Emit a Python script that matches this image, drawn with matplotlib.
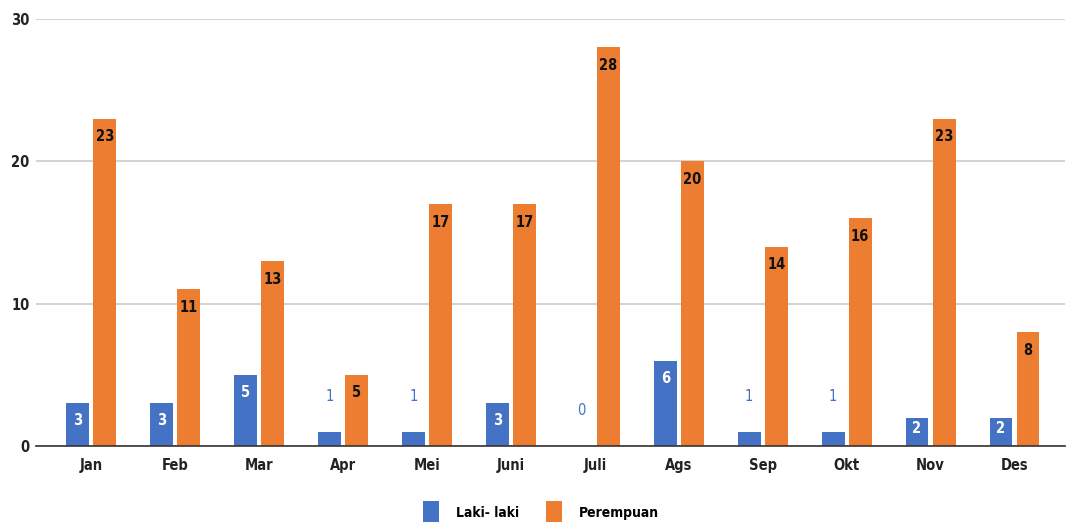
import numpy as np
import matplotlib.pyplot as plt
from matplotlib.patches import Patch
from matplotlib import font_manager

names = {f.name for f in font_manager.fontManager.ttflist}
cond = [n for n in ['Liberation Sans Narrow', 'DejaVu Sans Condensed'] if n in names]
plt.rcParams['font.family'] = cond + ['DejaVu Sans']
plt.rcParams['font.stretch'] = 'condensed'

bulan = ['Jan', 'Feb', 'Mar', 'Apr', 'Mei', 'Juni', 'Juli', 'Ags', 'Sep', 'Okt', 'Nov', 'Des']
laki = [3, 3, 5, 1, 1, 3, 0, 6, 1, 1, 2, 2]
perempuan = [23, 11, 13, 5, 17, 17, 28, 20, 14, 16, 23, 8]

BLUE = '#4472C4'
ORANGE = '#ED7D31'

fig = plt.figure(figsize=(10.67, 5.22), dpi=100)
ax = fig.add_axes([0.034, 0.1456, 0.964, 0.818])

x = np.arange(len(bulan))
w = 0.272
gap = 0.025
b1 = ax.bar(x - w / 2 - gap, laki, w, color=BLUE, zorder=3)
b2 = ax.bar(x + w / 2 + gap, perempuan, w, color=ORANGE, zorder=3)

ax.set_ylim(0, 30)
ax.set_xlim(-0.655, 11.6)
ax.set_yticks([0, 10, 20, 30])
ax.set_xticks(x)
ax.set_xticklabels(bulan)
ax.tick_params(axis='both', length=0, labelsize=10.5, colors='#222222')
ax.tick_params(axis='x', pad=9)
ax.tick_params(axis='y', pad=5)
for lbl in ax.get_xticklabels() + ax.get_yticklabels():
    lbl.set_fontweight('bold')

ax.grid(axis='y', color='#cccccc', linewidth=1.2, zorder=0)
for s in ['top', 'right', 'left']:
    ax.spines[s].set_visible(False)
ax.spines['bottom'].set_color('#333333')
ax.spines['bottom'].set_linewidth(1.2)
ax.spines['bottom'].set_zorder(4)

# points per data unit on the y axis
ppu = ax.get_position().height * fig.get_figheight() * 72 / 30


def label(bars, vals, inner_color, outer_color):
    for b, v in zip(bars, vals):
        cx = b.get_x() + b.get_width() / 2
        h = v * ppu
        if v >= 2:
            off = -min(13, 0.4 * h)
            ax.annotate(str(v), (cx, v), xytext=(0, off), textcoords='offset points',
                        ha='center', va='center', color=inner_color,
                        fontsize=10.5, fontweight='bold', zorder=5)
        else:
            # short bars: value sits above the bar
            ax.annotate(str(v), (cx, v), xytext=(0, 25.5),
                        textcoords='offset points', ha='center', va='center',
                        color=outer_color, fontsize=10.5, zorder=5)


label(b1, laki, 'white', BLUE)
label(b2, perempuan, '#111111', ORANGE)

handles = [Patch(facecolor=BLUE, label='Laki- laki'),
           Patch(facecolor=ORANGE, label='Perempuan')]
leg = fig.legend(handles=handles, loc='lower center', bbox_to_anchor=(0.507, -0.03),
                 ncol=2, frameon=False, handlelength=1.2, handleheight=2.3,
                 columnspacing=1.9, handletextpad=1.2, prop={'size': 10, 'weight': 'bold'})

fig.savefig('out.png', dpi=100)
